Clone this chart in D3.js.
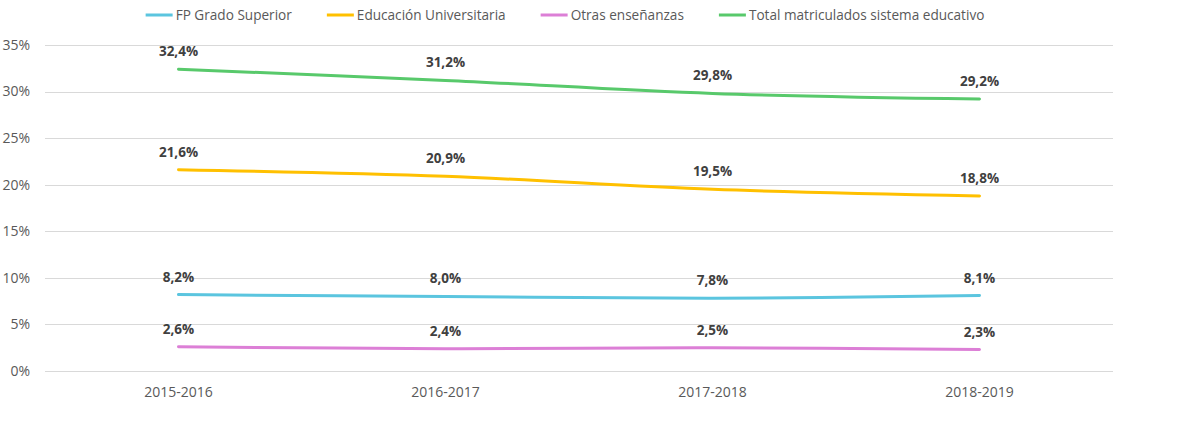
<!DOCTYPE html>
<html><head><meta charset="utf-8">
<script src="https://cdn.jsdelivr.net/npm/d3@7"></script>
<style>body{margin:0;background:#fff}svg{display:block}</style>
</head><body>
<svg id="c" width="1180" height="425"></svg>
<script>
const categories = ["2015-2016","2016-2017","2017-2018","2018-2019"];
const seriesNames = ["FP Grado Superior","Educación Universitaria","Otras enseñanzas","Total matriculados sistema educativo"];
const seriesColors = ["#5bc5df","#ffc000","#dc7fd6","#58c96b"];
const fpValues = [8.2, 8.0, 7.8, 8.1];
const uniValues = [21.6, 20.9, 19.5, 18.8];
const otrasValues = [2.6, 2.4, 2.5, 2.3];
const totalValues = [32.4, 31.2, 29.8, 29.2];
const yTicks = [0,5,10,15,20,25,30,35];

const allValues = [fpValues, uniValues, otrasValues, totalValues];
const font = "'Open Sans', 'Noto Sans', sans-serif";
const svg = d3.select("#c");
const W = 1180, H = 425;
const m = {left:45, right:67, top:45, bottom:54};
const x = d3.scaleBand().domain(categories).range([m.left, W - m.right]);
const y = d3.scaleLinear().domain([0,35]).range([H - m.bottom, m.top]);

// gridlines
svg.append("g").selectAll("line").data(yTicks).join("line")
  .attr("x1", m.left).attr("x2", W - m.right)
  .attr("y1", d => Math.round(y(d)) + 0.5).attr("y2", d => Math.round(y(d)) + 0.5)
  .attr("stroke", "#d9d9d9").attr("stroke-width", 1);

// y axis labels
svg.append("g").selectAll("text").data(yTicks).join("text")
  .attr("x", 30).attr("y", d => y(d)).attr("dy", "0.35em")
  .attr("text-anchor", "end").attr("font-family", font).attr("font-size", 14)
  .attr("fill", "#595959").text(d => d + "%");

// x axis labels
svg.append("g").selectAll("text").data(categories).join("text")
  .attr("x", d => x(d) + x.bandwidth()/2).attr("y", 397)
  .attr("text-anchor", "middle").attr("font-family", font).attr("font-size", 14)
  .attr("fill", "#595959").text(d => d);

const line = d3.line()
  .x((d,i) => x(categories[i]) + x.bandwidth()/2)
  .y(d => y(d))
  .curve(d3.curveCatmullRom.alpha(0.5));

allValues.forEach((vals, si) => {
  svg.append("path").datum(vals).attr("d", line)
    .attr("fill", "none").attr("stroke", seriesColors[si])
    .attr("stroke-width", 3).attr("stroke-linecap", "round");
});

allValues.forEach((vals, si) => {
  svg.append("g").selectAll("text").data(vals).join("text")
    .attr("x", (d,i) => x(categories[i]) + x.bandwidth()/2)
    .attr("y", d => y(d) - 13)
    .attr("text-anchor", "middle").attr("font-family", font)
    .attr("font-size", 13.5).attr("font-weight", "bold").attr("fill", "#404040")
    .text(d => d.toFixed(1).replace(".", ",") + "%");
});

// legend
const lg = svg.append("g");
let cx = 0;
seriesNames.forEach((n, i) => {
  const g = lg.append("g").attr("transform", `translate(${cx},0)`);
  g.append("line").attr("x1", 0).attr("x2", 27).attr("y1", 15).attr("y2", 15)
    .attr("stroke", seriesColors[i]).attr("stroke-width", 3);
  const t = g.append("text").attr("x", 30).attr("y", 15).attr("dy", "0.35em")
    .attr("font-family", font).attr("font-size", 13.6).attr("fill", "#595959").text(n);
  cx += 30 + t.node().getComputedTextLength() + 35;
});
const totalW = cx - 35;
lg.attr("transform", `translate(${565 - totalW/2},0)`);
</script>
</body></html>
